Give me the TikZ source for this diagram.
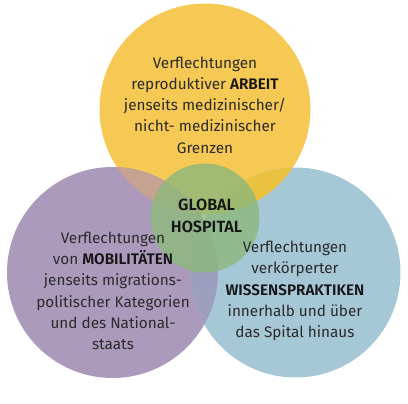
\documentclass[tikz,border=0pt]{standalone}
\usepackage{fontspec}
\setmainfont{Fira Sans}[BoldFont={Fira Sans SemiBold}]
\definecolor{yel}{HTML}{F6C955}
\definecolor{pur}{HTML}{AC9ABC}
\definecolor{blu}{HTML}{A6C8D6}
\definecolor{grn}{RGB}{140,184,124}
\definecolor{yp}{HTML}{C6A293}
\definecolor{yb}{HTML}{EBC23F}
\definecolor{pb}{HTML}{9E9FBE}
\definecolor{txt}{HTML}{2B2B2B}
\definecolor{btxt}{HTML}{151515}
\tikzset{
  lbl/.style={align=center, text=txt, inner sep=0pt, font=\fontsize{15.3}{21.3}\selectfont},
  glbl/.style={align=center, text=btxt, inner sep=0pt, font=\fontsize{16.2}{21.3}\selectfont\bfseries},
}
\newcommand{\kw}[1]{\textbf{\color{btxt}#1}}
\begin{document}
\begin{tikzpicture}[x=1pt,y=-1pt]
\useasboundingbox (0,0) rectangle (408,404);
\coordinate (Y) at (205,109);
\coordinate (P) at (112.5,272.5);
\coordinate (B) at (295.5,272.5);
\coordinate (G) at (205,218);
\fill[yel] (Y) circle[radius=105.5];
\fill[pur] (P) circle[radius=105.5];
\fill[blu] (B) circle[radius=105];
\begin{scope}
  \clip (Y) circle[radius=105.5];
  \fill[yp] (P) circle[radius=105.5];
  \fill[yb] (B) circle[radius=105];
\end{scope}
\begin{scope}
  \clip (P) circle[radius=105.5];
  \fill[pb] (B) circle[radius=105];
\end{scope}
\fill[grn, opacity=0.8] (G) circle[radius=54.5];
\node[lbl] (ty) at (205,105) {Verflechtungen\\reproduktiver \kw{ARBEIT}\\jenseits medizinischer/\\nicht- medizinischer\\Grenzen};
\node[lbl] (tp) at (113,291) {Verflechtungen\\von \kw{MOBILITÄTEN}\\jenseits migrations-\\politischer Kategorien\\und des National-\\staats};
\node[lbl] (tb) at (295,291) {Verflechtungen\\verkörperter\\\kw{WISSENSPRAKTIKEN}\\innerhalb und über\\das Spital hinaus};
\node[glbl] (tg) at (206.5,216) {GLOBAL\\HOSPITAL};
\end{tikzpicture}
\end{document}
